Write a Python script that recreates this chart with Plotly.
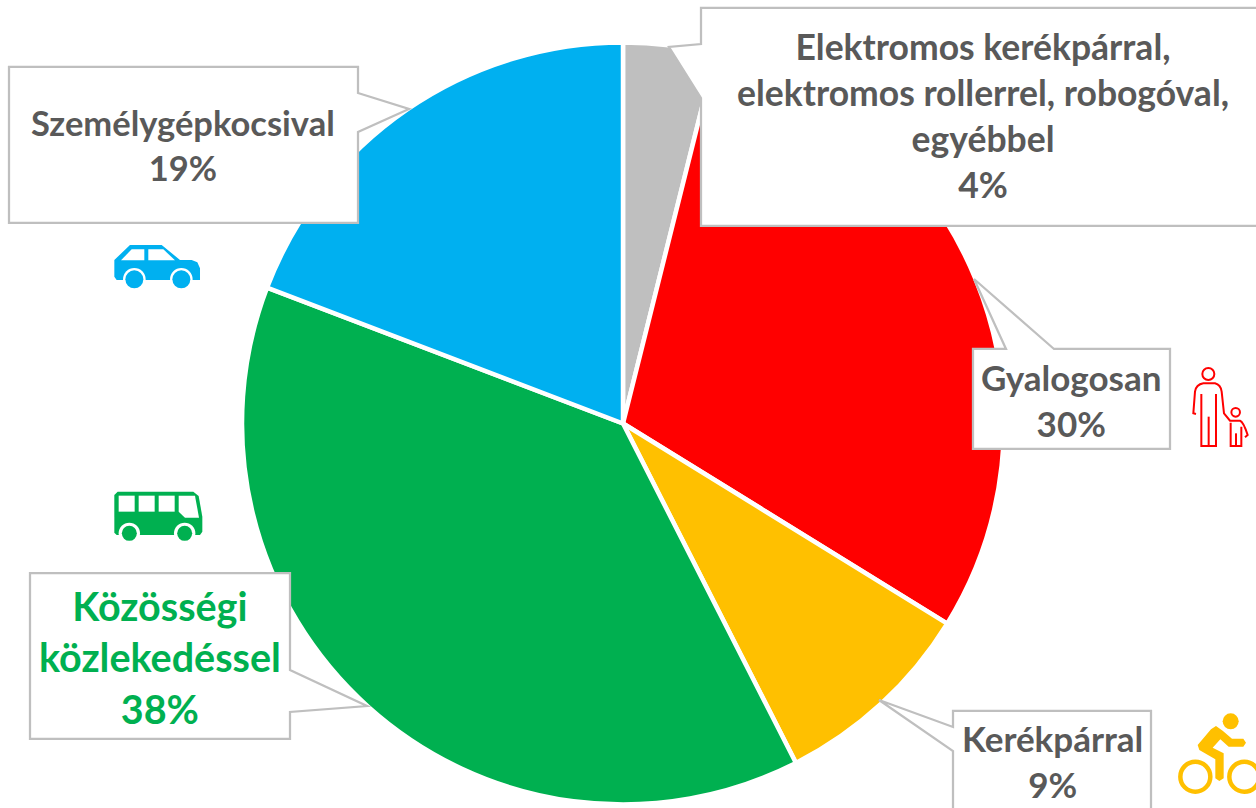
import plotly.graph_objects as go

W, H = 1256, 808

categories = ["Elektromos kerékpárral, elektromos rollerrel, robogóval, egyébbel",
              "Gyalogosan", "Kerékpárral", "Közösségi közlekedéssel", "Személygépkocsival"]
values = [3.9, 29.9, 8.7, 38.3, 19.2]
colors = ["#BFBFBF", "#FF0000", "#FFC000", "#00B050", "#00B0F0"]
label_lines = [
    ["Elektromos kerékpárral,", "elektromos rollerrel, robogóval,", "egyébbel", "4%"],
    ["Gyalogosan", "30%"],
    ["Kerékpárral", "9%"],
    ["Közösségi", "közlekedéssel", "38%"],
    ["Személygépkocsival", "19%"],
]
label_colors = ["#595959", "#595959", "#595959", "#00B050", "#595959"]
label_sizes = [35.5, 35, 35, 39.5, 34.5]
label_centers = [(983, 116), (1071, 400), (1052, 761), (160, 657), (183, 145)]

callouts = [
    [(701, 8), (701, 44), (669, 47), (701, 98), (701, 226), (1262, 226), (1262, 8)],
    [(973, 349), (1006, 349), (974, 279), (1054, 349), (1170, 349), (1170, 449), (973, 449)],
    [(953, 711), (1151, 711), (1151, 815), (953, 815), (953, 751), (879, 700), (953, 727)],
    [(30, 573), (290, 573), (290, 670), (367, 706), (290, 712), (290, 739), (30, 739)],
    [(9, 67), (358, 67), (358, 93), (409, 109), (358, 132), (358, 223), (9, 223)],
]


def px(x):
    return round(x / W, 5)


def py(y):
    return round(1 - y / H, 5)


def path(cmds):
    """Build an SVG path in paper coordinates from pixel tuples."""
    out = []
    for c in cmds:
        op, pts = c[0], c[1:]
        out.append(op + " ".join(f"{px(a)},{py(b)}" for a, b in pts))
    return " ".join(out)


def poly(points):
    return path([("M", points[0])] + [("L", p) for p in points[1:]] + [("Z",)])


def z(ox, oy, pts):
    return [(ox + a / 3, oy + b / 3) for a, b in pts]


def circle(cx, cy, r, fill=None, line=None, width=0):
    return dict(type="circle", xref="paper", yref="paper",
                x0=px(cx - r), x1=px(cx + r), y0=py(cy + r), y1=py(cy - r),
                fillcolor=fill if fill else "rgba(0,0,0,0)",
                line=dict(color=line if line else "rgba(0,0,0,0)", width=width), layer="above")


def shape(d, fill=None, line=None, width=0):
    return dict(type="path", xref="paper", yref="paper", path=d,
                fillcolor=fill if fill else "rgba(0,0,0,0)",
                line=dict(color=line if line else "rgba(0,0,0,0)", width=width), layer="above")


def polyline(points):
    return path([("M", points[0])] + [("L", p) for p in points[1:]])


def curve(points):
    """Open path; a 2-tuple group of ('Q', ctrl, end) is allowed."""
    cmds = []
    for i, p in enumerate(points):
        if isinstance(p[0], tuple):
            cmds.append(("Q", p[0], p[1]))
        else:
            cmds.append(("M" if i == 0 else "L", p))
    return path(cmds)


shapes = []
for pts in callouts:
    shapes.append(shape(poly(pts), fill="white", line="#BFBFBF", width=2.25))

# car icon
CAR, BUS, RED, YEL = "#00B0F0", "#00B050", "#FF0000", "#FFC000"
ox, oy = 90, 220
shapes.append(shape(poly(z(ox, oy, [(73, 120), (120, 75), (215, 75), (270, 120), (305, 120), (322, 127),
                                    (330, 145), (330, 180), (80, 180), (73, 170)])), fill=CAR))
shapes.append(shape(poly(z(ox, oy, [(93, 121), (125, 88), (163, 88), (163, 121)])), fill="white"))
shapes.append(shape(poly(z(ox, oy, [(175, 88), (220, 88), (255, 121), (175, 121)])), fill="white"))
for zx in (133, 274):
    shapes.append(circle(ox + zx / 3, oy + 178 / 3, 11.3, fill="white"))
    shapes.append(circle(ox + zx / 3, oy + 178 / 3, 9, fill=CAR))

# bus icon
ox, oy = 90, 470
shapes.append(shape(poly(z(ox, oy, [(73, 75), (83, 65), (310, 65), (326, 78), (337, 140), (337, 185),
                                    (330, 195), (80, 195), (73, 188)])), fill=BUS))
for a in (86, 146, 206):
    shapes.append(shape(poly(z(ox, oy, [(a, 77), (a + 48, 77), (a + 48, 125), (a, 125)])), fill="white"))
shapes.append(shape(poly(z(ox, oy, [(266, 77), (315, 77), (327, 143), (285, 143), (266, 125)])), fill="white"))
for zx in (118, 284):
    shapes.append(circle(ox + zx / 3, oy + 190 / 3, 10.7, fill="white"))
    shapes.append(circle(ox + zx / 3, oy + 190 / 3, 7.5, fill=BUS))

# walking adult with child icon
ox, oy = 1170, 350
shapes.append(circle(ox + 115 / 3, oy + 72 / 3, 6, line=RED, width=2))
shapes.append(shape(curve(z(ox, oy, [(78, 192), (70, 190), (75, 125)]) +
                          [(z(ox, oy, [(78, 104)])[0], z(ox, oy, [(100, 100)])[0])] +
                          z(ox, oy, [(135, 100)]) +
                          [(z(ox, oy, [(152, 104)])[0], z(ox, oy, [(155, 125)])[0])] +
                          z(ox, oy, [(162, 190), (180, 212), (210, 212)]) +
                          [(z(ox, oy, [(220, 215)])[0], z(ox, oy, [(233, 255)])[0])] +
                          z(ox, oy, [(225, 262)])), line=RED, width=2))
shapes.append(shape(polyline(z(ox, oy, [(94, 132), (94, 288), (138, 288), (138, 132)])), line=RED, width=2))
shapes.append(shape(polyline(z(ox, oy, [(116, 200), (116, 288)])), line=RED, width=2))
shapes.append(circle(ox + 197 / 3, oy + 187 / 3, 4.3, line=RED, width=2))
shapes.append(shape(polyline(z(ox, oy, [(182, 218), (182, 288), (214, 288), (214, 230)])), line=RED, width=2))
shapes.append(shape(polyline(z(ox, oy, [(198, 250), (198, 288)])), line=RED, width=2))

# cyclist icon
ox, oy = 1156, 700
shapes.append(circle(ox + 224 / 3, oy + 64 / 3, 8, fill=YEL))
shapes.append(shape(poly(z(ox, oy, [(180, 78), (200, 92), (228, 116), (262, 116), (270, 128), (262, 140),
                                    (218, 140), (193, 118), (170, 143), (203, 160), (203, 235), (190, 243),
                                    (178, 235), (178, 178), (130, 150), (125, 135), (165, 88)])), fill=YEL))
for zx in (118, 265):
    shapes.append(circle(ox + zx / 3, oy + 230 / 3, 15, line=YEL, width=4.5))

annotations = []
for lines, col, size, (cx, cy) in zip(label_lines, label_colors, label_sizes, label_centers):
    annotations.append(dict(text="<br>".join(f"<b>{t}</b>" for t in lines),
                            xref="paper", yref="paper", x=px(cx), y=py(cy),
                            xanchor="center", yanchor="middle", align="center", showarrow=False,
                            font=dict(family="Lato, Open Sans, sans-serif", size=size, color=col)))

fig = go.Figure(go.Pie(
    labels=categories, values=values, sort=False, direction="clockwise", rotation=0,
    marker=dict(colors=colors, line=dict(color="white", width=4.5)),
    textinfo="none", hoverinfo="label+percent",
    domain=dict(x=[px(623 - 381), px(623 + 381)], y=[py(423.5 + 381), py(423.5 - 381)]),
    showlegend=False,
))
fig.update_layout(width=W, height=H, margin=dict(l=0, r=0, t=0, b=0), paper_bgcolor="white",
                  showlegend=False, shapes=shapes, annotations=annotations)
fig.write_html("out.html", config={"displayModeBar": False},
               post_script="document.body.style.margin='0';document.body.style.overflow='hidden';")
